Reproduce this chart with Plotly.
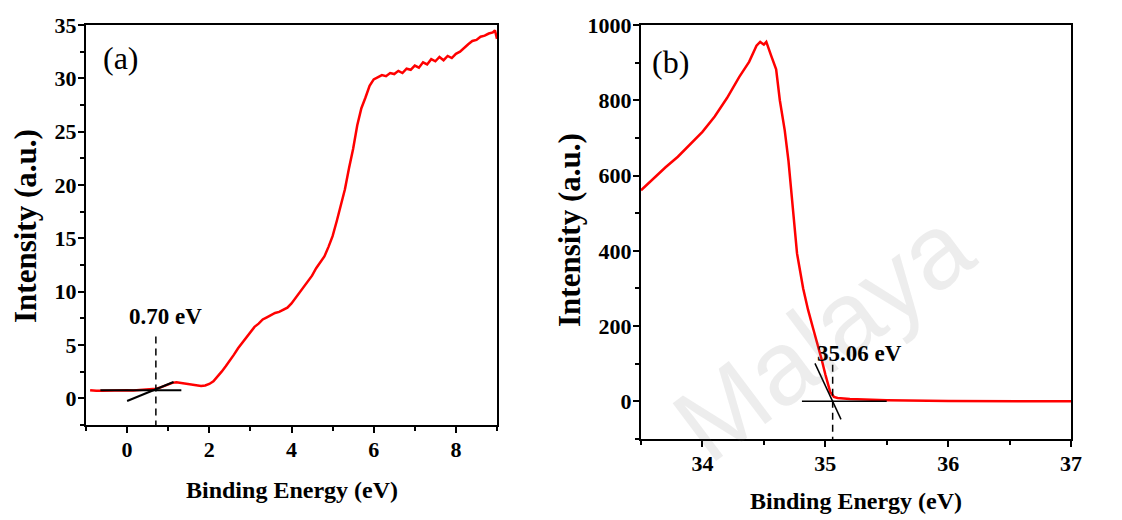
import plotly.graph_objects as go

# ---------------- data: panel (a) valence band ----------------
a_energy = [-0.9, -0.75, -0.6, -0.45, -0.3, -0.15, 0.0, 0.15, 0.3, 0.45, 0.6, 0.7, 0.8, 0.9, 1.0,
            1.1, 1.2, 1.3, 1.4, 1.5, 1.6, 1.7, 1.8, 1.9, 2.0, 2.1, 2.2, 2.3, 2.4, 2.5,
            2.6, 2.7, 2.8, 2.9, 3.0, 3.1, 3.2, 3.3, 3.4, 3.5, 3.6, 3.7, 3.8, 3.9, 4.0,
            4.1, 4.2, 4.3, 4.4, 4.5, 4.6, 4.7, 4.8, 4.9, 5.0, 5.1, 5.2, 5.3, 5.4, 5.5,
            5.6, 5.7, 5.8, 5.9, 6.0, 6.1, 6.2, 6.3, 6.4, 6.5, 6.6, 6.7, 6.8, 6.9, 7.0,
            7.1, 7.2, 7.3, 7.4, 7.5, 7.6, 7.7, 7.8, 7.9, 8.0, 8.1, 8.2, 8.3, 8.4, 8.5,
            8.6, 8.7, 8.8, 8.9, 8.95, 9.0]
a_intensity = [0.75, 0.7, 0.72, 0.74, 0.7, 0.73, 0.75, 0.74, 0.78, 0.8, 0.85, 0.9, 1.0, 1.15, 1.3,
               1.45, 1.5, 1.45, 1.4, 1.35, 1.3, 1.2, 1.15, 1.2, 1.35, 1.6, 2.0, 2.5, 3.0, 3.5,
               4.1, 4.7, 5.2, 5.8, 6.3, 6.7, 7.0, 7.4, 7.6, 7.8, 8.0, 8.1, 8.3, 8.5, 8.9,
               9.4, 9.9, 10.4, 11.0, 11.5, 12.2, 12.8, 13.3, 14.2, 15.2, 16.6, 18.0, 19.6, 21.6, 23.4,
               25.6, 27.2, 28.2, 29.3, 29.9, 30.1, 30.3, 30.2, 30.5, 30.4, 30.7, 30.5, 30.9, 30.8, 31.2,
               31.0, 31.5, 31.3, 31.8, 31.6, 32.0, 31.7, 32.1, 31.9, 32.3, 32.5, 32.9, 33.2, 33.5, 33.6,
               33.9, 34.0, 34.2, 34.3, 34.5, 33.7]

# tangent constructions (a)
a_base_x = [-0.65, 1.32]
a_base_y = [0.75, 0.75]
a_slope_x = [0.0, 1.13]
a_slope_y = [-0.25, 1.53]
a_onset = 0.70
a_onset_y = [5.8, -2.5]

# ---------------- data: panel (b) secondary electron cutoff ----------------
b_energy = [33.5, 33.6, 33.7, 33.8, 33.9, 34.0, 34.1, 34.2, 34.3, 34.38, 34.44, 34.47, 34.5,
            34.52, 34.56, 34.6, 34.63, 34.67, 34.7, 34.74, 34.77, 34.82, 34.86, 34.9, 34.94,
            34.97, 35.0, 35.04, 35.07, 35.1, 35.2, 35.5, 36.0, 37.0]
b_intensity = [561, 592, 622, 650, 682, 716, 757, 806, 862, 902, 945, 955, 948,
               955, 918, 882, 800, 720, 640, 500, 393, 300, 243, 195, 150,
               112, 72, 25, 12, 9, 6, 3, 1, 0]

b_base_x = [34.81, 35.5]
b_base_y = [0, 0]
b_slope_x = [34.916, 35.128]
b_slope_y = [101, -48]
b_onset = 35.06
b_onset_y = [97, -100]

# ---------------- figure ----------------
W, H = 1122, 520
SERIF = "Liberation Serif, Times New Roman, serif"
RED = "#ff0000"

fig = go.Figure()
fig.add_trace(go.Scatter(x=a_energy, y=a_intensity, mode="lines",
                         line=dict(color=RED, width=2.5), xaxis="x", yaxis="y"))
fig.add_trace(go.Scatter(x=a_base_x, y=a_base_y, mode="lines",
                         line=dict(color="black", width=2), xaxis="x", yaxis="y"))
fig.add_trace(go.Scatter(x=a_slope_x, y=a_slope_y, mode="lines",
                         line=dict(color="black", width=2), xaxis="x", yaxis="y"))
fig.add_trace(go.Scatter(x=[a_onset, a_onset], y=a_onset_y, mode="lines",
                         line=dict(color="black", width=1.5, dash="7px,5px"), xaxis="x", yaxis="y"))

fig.add_trace(go.Scatter(x=b_energy, y=b_intensity, mode="lines",
                         line=dict(color=RED, width=2.5), xaxis="x2", yaxis="y2"))
fig.add_trace(go.Scatter(x=b_base_x, y=b_base_y, mode="lines",
                         line=dict(color="black", width=1.5), xaxis="x2", yaxis="y2"))
fig.add_trace(go.Scatter(x=b_slope_x, y=b_slope_y, mode="lines",
                         line=dict(color="black", width=1.5), xaxis="x2", yaxis="y2"))
fig.add_trace(go.Scatter(x=[b_onset, b_onset], y=b_onset_y, mode="lines",
                         line=dict(color="black", width=1.5, dash="7px,5px"), xaxis="x2", yaxis="y2"))

tickfont = dict(family=SERIF, size=22, color="black", weight="bold")
xtitlefont = dict(family=SERIF, size=24, color="black", weight="bold")
ytitlefont = dict(family=SERIF, size=31, color="black", weight="bold")

def axis_common(dtick, minor_dtick):
    return dict(showline=True, linewidth=2.2, linecolor="black", mirror=True,
                ticks="outside", ticklen=6, tickwidth=2, tickcolor="black",
                ticklabelstandoff=-3,
                showgrid=False, zeroline=False, tickfont=tickfont, dtick=dtick,
                minor=dict(ticks="outside", ticklen=4, tickwidth=2, tickcolor="black",
                           dtick=minor_dtick, showgrid=False))

fig.update_layout(
    width=W, height=H, paper_bgcolor="white", plot_bgcolor="white",
    margin=dict(l=0, r=0, t=0, b=0, autoexpand=False), showlegend=False,
    xaxis=dict(domain=[86 / W, 497 / W], range=[-1, 9], anchor="y",
               **axis_common(2, 1)),
    yaxis=dict(domain=[1 - 425 / H, 1 - 25 / H], range=[-2.5, 35], anchor="x",
               tickvals=[0, 5, 10, 15, 20, 25, 30, 35],
               **axis_common(5, 2.5)),
    xaxis2=dict(domain=[641 / W, 1071 / W], range=[33.5, 37], anchor="y2",
                tickvals=[34, 35, 36, 37],
                **axis_common(1, 0.5)),
    yaxis2=dict(domain=[1 - 439 / H, 1 - 25 / H], range=[-100, 1000], anchor="x2",
                tickvals=[0, 200, 400, 600, 800, 1000],
                **axis_common(200, 100)),
)

def paper_text(px, py, text, font, angle=0):
    fig.add_annotation(x=px / W, y=1 - py / H, xref="paper", yref="paper",
                       xanchor="center", yanchor="middle", text=text,
                       showarrow=False, textangle=angle, font=font)

# faint watermark (drawn first so other texts sit above it)
paper_text(822, 335, "Malaya",
           dict(family="Liberation Sans, Arial, sans-serif", size=105,
                color="rgba(110,110,110,0.12)"), angle=-37)

# axis titles
paper_text(291.5, 490, "Binding Energy (eV)", xtitlefont)
paper_text(856, 501, "Binding Energy (eV)", xtitlefont)
paper_text(25, 226, "Intensity (a.u.)", ytitlefont, angle=-90)
paper_text(569, 230, "Intensity (a.u.)", ytitlefont, angle=-90)

# panel labels and onset labels
fig.add_annotation(x=-0.14, y=31.9, xref="x", yref="y", text="(a)", showarrow=False,
                   font=dict(family=SERIF, size=32, color="black"))
fig.add_annotation(x=33.74, y=902, xref="x2", yref="y2", text="(b)", showarrow=False,
                   font=dict(family=SERIF, size=32, color="black"))
fig.add_annotation(x=0.93, y=7.7, xref="x", yref="y", text="0.70 eV", showarrow=False,
                   font=dict(family=SERIF, size=23, color="black", weight="bold"))
fig.add_annotation(x=35.28, y=128, xref="x2", yref="y2", text="35.06 eV", showarrow=False,
                   font=dict(family=SERIF, size=23, color="black", weight="bold"))

fig.write_html("out.html")
